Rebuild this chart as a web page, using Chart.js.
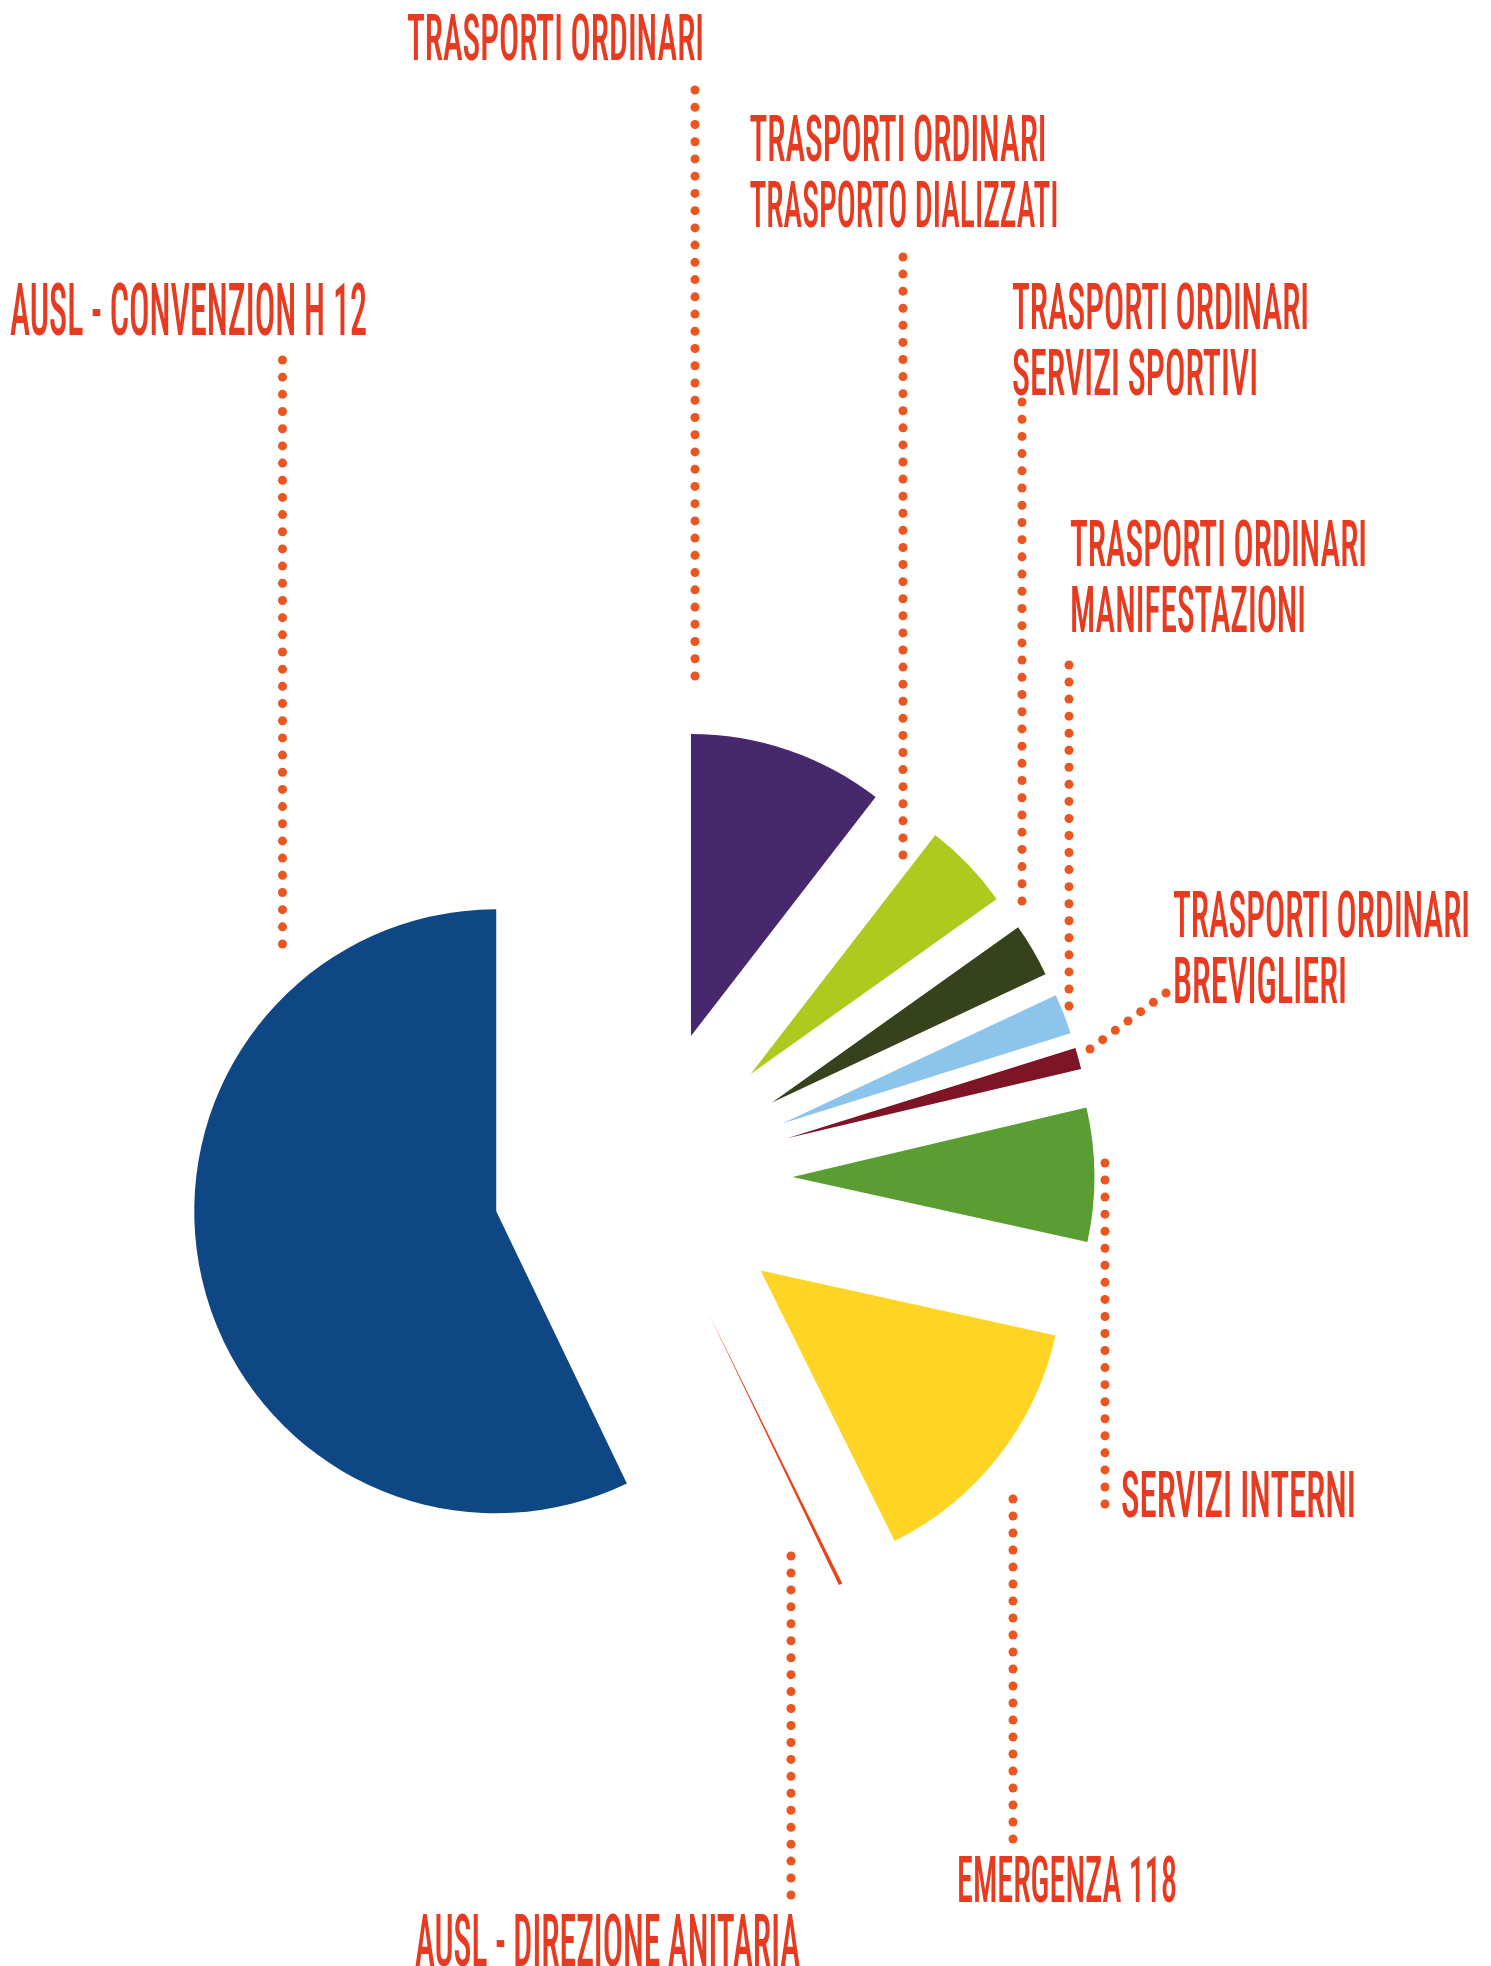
<!DOCTYPE html>
<html>
<head>
<meta charset="utf-8">
<script src="https://cdn.jsdelivr.net/npm/chart.js@4.4.1/dist/chart.umd.min.js"></script>
<style>
html,body{margin:0;padding:0;background:#ffffff;}
#wrap{position:relative;width:1491px;height:1966px;overflow:hidden;}
canvas{display:block;}
</style>
</head>
<body>
<div id="wrap"><canvas id="c" width="1491" height="1966"></canvas></div>
<script>
// ---- data ----
const categories = [
  'Trasporti ordinari',
  'Trasporti ordinari - Trasporto dializzati',
  'Trasporti ordinari - Servizi sportivi',
  'Trasporti ordinari - Manifestazioni',
  'Trasporti ordinari - Breviglieri',
  'Servizi interni',
  'Emergenza 118',
  'AUSL - Direzione anitaria',
  'AUSL - Convenzion H 12'
];
const shares = [10.47, 4.69, 2.86, 2.15, 1.14, 7.15, 14.22, 0.2, 57.12];
const labelLines = [
  ['TRASPORTI ORDINARI'],
  ['TRASPORTI ORDINARI', 'TRASPORTO DIALIZZATI'],
  ['TRASPORTI ORDINARI', 'SERVIZI SPORTIVI'],
  ['TRASPORTI ORDINARI', 'MANIFESTAZIONI'],
  ['TRASPORTI ORDINARI', 'BREVIGLIERI'],
  ['SERVIZI INTERNI'],
  ['EMERGENZA 118'],
  ['AUSL - DIREZIONE ANITARIA'],
  ['AUSL - CONVENZION H 12']
];

// ---- styles / layout ----
const sliceColors = ['#48286C', '#AFCA1E', '#36421C', '#8DC4EC', '#7D1526', '#5A9E33', '#FED425', '#E8451E', '#0E4784'];
const TEXT_COLOR = '#E63B20';
const DOT_COLOR = '#EA5520';
const FONT_FAMILY = '"Roboto Condensed", "Liberation Sans Narrow", "Liberation Sans", Arial, sans-serif';
const FONT_WEIGHT = '500';
const labelPlacement = [
  {x: 407, y: 60, big: false},
  {x: 749.5, y: 161, big: false},
  {x: 1012, y: 329, big: false},
  {x: 1070, y: 566, big: false},
  {x: 1173, y: 937, big: false},
  {x: 1121, y: 1517, big: false},
  {x: 957, y: 1902, big: false},
  {x: 415, y: 1966, big: true},
  {x: 10, y: 335, big: true}
];
// fitted text widths (px) per line
const lineFit = {
  'TRASPORTI ORDINARI': 297,
  'TRASPORTO DIALIZZATI': 309,
  'SERVIZI SPORTIVI': 246,
  'MANIFESTAZIONI': 236,
  'BREVIGLIERI': 174,
  'SERVIZI INTERNI': 235,
  'EMERGENZA 118': 220,
  'AUSL - DIREZIONE ANITARIA': 385,
  'AUSL - CONVENZION H 12': 357
};
const leaderLines = [
  [695, 90, 695, 676],
  [903, 257, 903, 855],
  [1022, 402, 1022, 901],
  [1069, 665, 1069, 1006],
  [1166, 993, 1090, 1049],
  [1105, 1163, 1105, 1504],
  [1013, 1499, 1013, 1839],
  [791, 1556, 791, 1895],
  [282.5, 360, 282.5, 944]
];

const explodePlugin = {
  id: 'explode',
  afterDatasetsUpdate(chart, args, opts) {
    const meta = chart.getDatasetMeta(0);
    meta.data.forEach((arc) => {
      const mid = (arc.startAngle + arc.endAngle) / 2;
      arc.x += Math.cos(mid) * opts.distance;
      arc.y += Math.sin(mid) * opts.distance;
    });
  }
};

const annotatePlugin = {
  id: 'annotate',
  afterDraw(chart) {
    const ctx = chart.ctx;
    ctx.save();
    // dotted leader lines
    ctx.fillStyle = DOT_COLOR;
    leaderLines.forEach(([x1, y1, x2, y2]) => {
      const len = Math.hypot(x2 - x1, y2 - y1);
      const n = Math.max(1, Math.round(len / 17));
      for (let i = 0; i <= n; i++) {
        const t = i / n;
        ctx.beginPath();
        ctx.arc(x1 + (x2 - x1) * t, y1 + (y2 - y1) * t, 4.5, 0, Math.PI * 2);
        ctx.fill();
      }
    });
    // labels
    const sizes = {small: {size: 65, lh: 66}, big: {size: 72, lh: 72}};
    ctx.fillStyle = TEXT_COLOR;
    ctx.textBaseline = 'alphabetic';
    ctx.textAlign = 'left';
    labelLines.forEach((lines, i) => {
      const p = labelPlacement[i];
      const g = p.big ? sizes.big : sizes.small;
      ctx.font = FONT_WEIGHT + ' ' + g.size + 'px ' + FONT_FAMILY;
      lines.forEach((line, j) => {
        const w = ctx.measureText(line).width;
        const sx = (lineFit[line] || w) / w;
        ctx.save();
        ctx.translate(p.x, p.y + j * g.lh);
        ctx.scale(sx, 1);
        ctx.fillText(line, 0, 0);
        ctx.restore();
      });
    });
    ctx.restore();
  }
};

new Chart(document.getElementById('c'), {
  type: 'pie',
  data: {
    labels: categories,
    datasets: [{
      data: shares,
      backgroundColor: sliceColors,
      borderWidth: 0,
      radius: 302
    }]
  },
  options: {
    responsive: false,
    animation: false,
    events: [],
    radius: 302,
    layout: {padding: {left: 0, right: 206, top: 390, bottom: 0}},
    plugins: {
      legend: {display: false},
      tooltip: {enabled: false},
      explode: {distance: 150}
    }
  },
  plugins: [explodePlugin, annotatePlugin]
});
</script>
</body>
</html>
